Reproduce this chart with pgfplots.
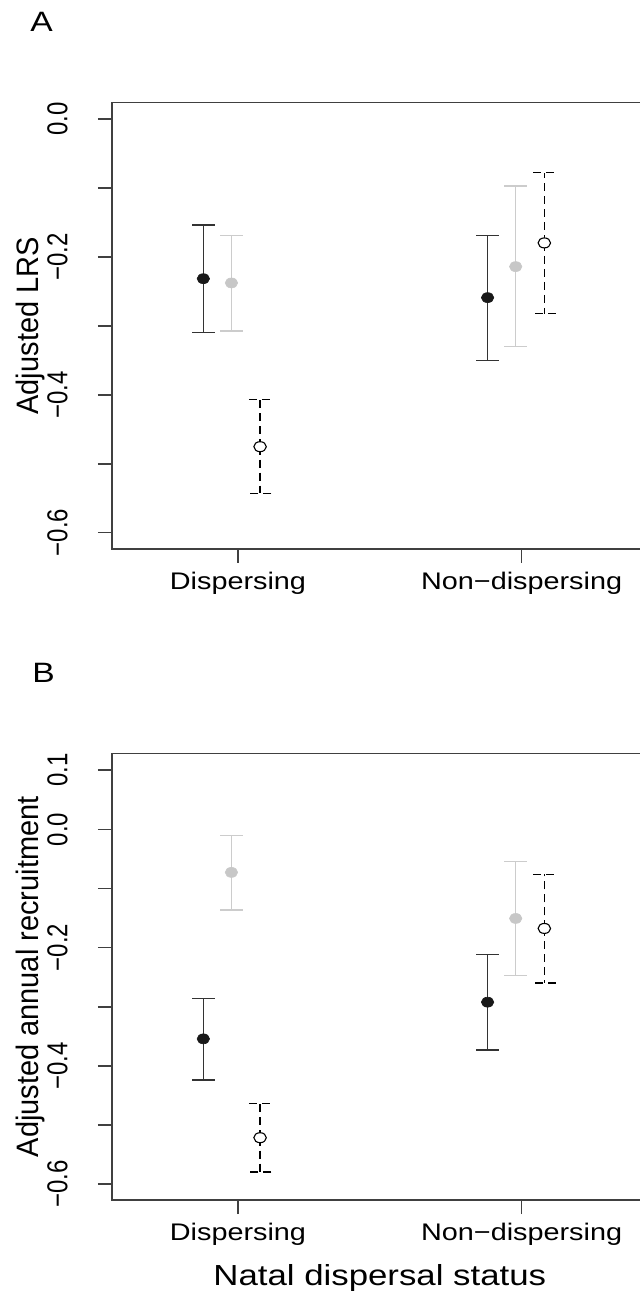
\documentclass[border=0pt]{standalone}
\usepackage{pgfplots}
\pgfplotsset{compat=1.18}
\usepackage{pgfplotstable}
\usepackage{fontspec}
\setmainfont{Liberation Sans}
\newfontfamily\hfont{Liberation Sans}[FakeStretch=1.2]
\newfontfamily\vfont{Liberation Sans}[FakeStretch=0.8333]
\newfontfamily\vlfont{Liberation Sans}[FakeStretch=0.935]

\definecolor{darkline}{gray}{0.2}
\definecolor{lightline}{gray}{0.8}
\definecolor{lightpt}{gray}{0.78}
\definecolor{darkpt}{gray}{0.1}
\definecolor{boxline}{gray}{0.25}

% Panel A
\pgfplotstableread{
x y ep em
0.878 -0.2314 0.0776 0.0783
1.880 -0.2589 0.0899 0.0915
}\Ablack
\pgfplotstableread{
x y ep em
0.977 -0.2376 0.0692 0.0697
1.979 -0.2139 0.1167 0.1161
}\Agray
\pgfplotstableread{
x y ep em
1.078 -0.4752 0.0682 0.0676
2.080 -0.1795 0.1020 0.1027
}\Awhite
% Panel B
\pgfplotstableread{
x y ep em
0.878 -0.3544 0.0682 0.0695
1.880 -0.2923 0.0806 0.0813
}\Bblack
\pgfplotstableread{
x y ep em
0.977 -0.0728 0.0627 0.0632
1.979 -0.1507 0.0966 0.0965
}\Bgray
\pgfplotstableread{
x y ep em
1.078 -0.5216 0.0583 0.0581
2.080 -0.1676 0.0914 0.0920
}\Bwhite

\pgfplotsset{
  panel/.style={
    scale only axis, width=267.8pt, height=223.15pt,
    xmin=0.556, xmax=2.444,
    axis line style={boxline, line width=0.8pt},
    tick style={boxline, line width=0.8pt},
    tick align=outside, major tick length=7pt,
    tick pos=left,
    xtick={1,2}, xticklabels={Dispersing,Non−dispersing},
    xticklabel style={font=\hfont\fontsize{12}{14}\selectfont, anchor=base},
    xticklabel shift=13.35pt,
    yticklabel style={font=\vfont\fontsize{14.4}{16}\selectfont, rotate=90, anchor=base},
    yticklabel shift=15.25pt,
    ylabel style={font=\vlfont\fontsize{15.5}{18}\selectfont, at={(axis description cs:-0.1363,0.5)}, anchor=base},
    xlabel style={font=\hfont\fontsize{14.5}{17}\selectfont, at={(axis description cs:0.5,-0.1906)}, anchor=base},
    clip=false,
  },
  blackser/.style={only marks, mark=*, mark size=2.5pt,
    mark options={xscale=1.25, fill=darkpt, draw=darkpt, line width=0.3pt},
    error bars/.cd, y dir=both, y explicit,
    error bar style={darkline, line width=0.75pt},
    error mark options={rotate=90, mark size=5.65pt, darkline, line width=0.75pt}},
  grayser/.style={only marks, mark=*, mark size=2.5pt,
    mark options={xscale=1.25, fill=lightpt, draw=lightpt, line width=0.3pt},
    error bars/.cd, y dir=both, y explicit,
    error bar style={lightline, line width=0.75pt},
    error mark options={rotate=90, mark size=5.65pt, lightline, line width=0.75pt}},
  whiteser/.style={only marks, mark=*, mark size=2.5pt,
    mark options={xscale=1.25, fill=white, draw=black, line width=0.55pt},
    error bars/.cd, y dir=both, y explicit,
    error bar style={black, line width=0.7pt, dash pattern=on 4pt off 2.5pt},
    error mark options={rotate=90, mark size=5.65pt, black, line width=0.7pt, dash pattern=on 4pt off 2.5pt}},
}

\begin{document}
\begin{tikzpicture}
\begin{axis}[panel, at={(56pt,371pt)}, anchor=south west,
  ymin=-0.6237, ymax=0.024,
  ytick={-0.6,-0.5,-0.4,-0.3,-0.2,-0.1,0},
  yticklabels={−0.6,{},−0.4,{},−0.2,{},0.0},
  ylabel={Adjusted LRS}]
\addplot[blackser] table[x=x, y=y, y error plus=ep, y error minus=em] {\Ablack};
\addplot[grayser] table[x=x, y=y, y error plus=ep, y error minus=em] {\Agray};
\addplot[whiteser] table[x=x, y=y, y error plus=ep, y error minus=em] {\Awhite};
\end{axis}
\begin{axis}[panel, at={(56pt,45.5pt)}, anchor=south west,
  ymin=-0.627, ymax=0.128,
  ytick={-0.6,-0.5,-0.4,-0.3,-0.2,-0.1,0,0.1},
  yticklabels={−0.6,{},−0.4,{},−0.2,{},0.0,0.1},
  ylabel={Adjusted annual recruitment},
  xlabel={Natal dispersal status}]
\addplot[blackser] table[x=x, y=y, y error plus=ep, y error minus=em] {\Bblack};
\addplot[grayser] table[x=x, y=y, y error plus=ep, y error minus=em] {\Bgray};
\addplot[whiteser] table[x=x, y=y, y error plus=ep, y error minus=em] {\Bwhite};
\end{axis}
\node[anchor=base west, inner sep=0pt, font=\hfont\fontsize{14}{17}\selectfont] at (15pt,629.65pt) {A};
\node[anchor=base west, inner sep=0pt, font=\hfont\fontsize{14}{17}\selectfont] at (16pt,304pt) {B};
\pgfresetboundingbox
\useasboundingbox (0,0) rectangle (320pt,645.5pt);
\end{tikzpicture}
\end{document}
